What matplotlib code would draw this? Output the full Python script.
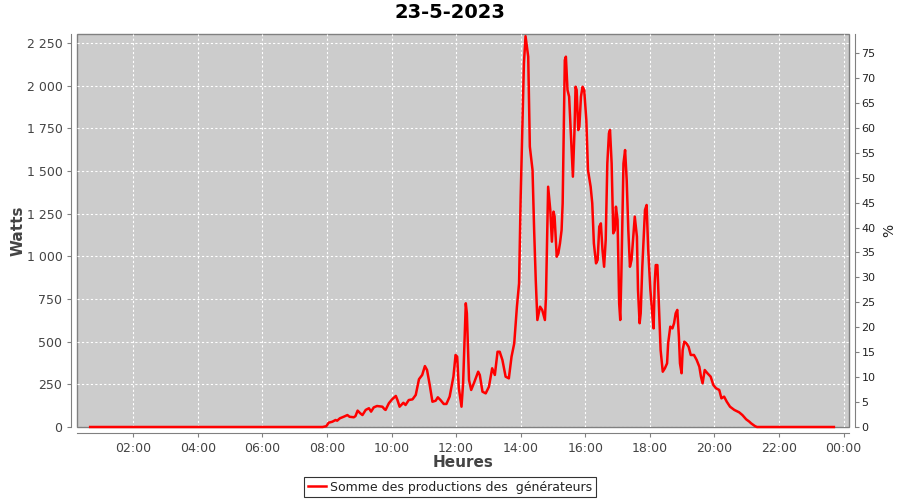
import matplotlib
matplotlib.use("Agg")
import matplotlib.pyplot as plt
from matplotlib.ticker import FuncFormatter, FixedLocator

# Relevés de la journée (heure, watts)
heures = [
    "00:40", "07:52", "07:59", "08:03", "08:10", "08:16", "08:19", "08:24", "08:31", "08:38",
    "08:42", "08:50", "08:53", "08:57", "09:02", "09:06", "09:12", "09:18", "09:22", "09:27",
    "09:33", "09:43", "09:47", "09:49", "09:55", "10:01", "10:08", "10:11", "10:15", "10:22",
    "10:26", "10:32", "10:39", "10:45", "10:51", "10:57", "11:02", "11:06", "11:11", "11:16",
    "11:22", "11:26", "11:31", "11:37", "11:42", "11:48", "11:55", "11:59", "12:02", "12:05",
    "12:10", "12:13", "12:18", "12:20", "12:24", "12:28", "12:33", "12:41", "12:44", "12:49",
    "12:55", "13:01", "13:07", "13:12", "13:17", "13:21", "13:26", "13:32", "13:38", "13:43",
    "13:48", "13:53", "13:57", "14:00", "14:03", "14:06", "14:09", "14:14", "14:17", "14:22",
    "14:25", "14:28", "14:31", "14:36", "14:40", "14:45", "14:47", "14:51", "14:55", "14:58",
    "15:01", "15:03", "15:07", "15:10", "15:13", "15:16", "15:18", "15:20", "15:22", "15:24",
    "15:27", "15:30", "15:33", "15:37", "15:40", "15:42", "15:44", "15:47", "15:49", "15:52",
    "15:55", "15:58", "16:02", "16:05", "16:10", "16:13", "16:16", "16:20", "16:23", "16:26",
    "16:29", "16:32", "16:35", "16:38", "16:41", "16:44", "16:46", "16:49", "16:52", "16:55",
    "16:57", "17:00", "17:03", "17:05", "17:07", "17:11", "17:14", "17:17", "17:20", "17:23",
    "17:26", "17:30", "17:32", "17:36", "17:38", "17:41", "17:43", "17:46", "17:51", "17:54",
    "17:57", "18:01", "18:05", "18:07", "18:09", "18:11", "18:14", "18:17", "18:20", "18:24",
    "18:28", "18:32", "18:34", "18:38", "18:42", "18:45", "18:48", "18:51", "18:54", "18:56",
    "18:59", "19:01", "19:04", "19:08", "19:12", "19:16", "19:22", "19:27", "19:32", "19:35",
    "19:38", "19:42", "19:47", "19:53", "19:58", "20:03", "20:09", "20:13", "20:18", "20:23",
    "20:29", "20:37", "20:46", "20:52", "20:59", "21:05", "21:08", "21:15", "21:19", "23:42",
]
watts = [
    0, 0, 5, 25, 31, 41, 37, 51, 60, 70,
    60, 57, 64, 96, 80, 70, 100, 110, 90, 115,
    123, 119, 104, 100, 139, 162, 182, 158, 119, 142,
    129, 158, 162, 188, 280, 305, 357, 334, 246, 148,
    154, 174, 158, 135, 135, 178, 295, 422, 412, 230,
    119, 256, 725, 666, 275, 217, 256, 324, 305, 207,
    197, 236, 344, 305, 441, 441, 393, 295, 285, 412,
    490, 705, 842, 1350, 1740, 2131, 2290, 2170, 1643, 1506,
    1154, 861, 627, 705, 686, 627, 764, 1408, 1272, 1086,
    1262, 1233, 998, 1018, 1076, 1154, 1311, 1740, 2150, 2170,
    1975, 1936, 1740, 1467, 1740, 1994, 1975, 1740, 1760, 1936,
    1994, 1975, 1799, 1506, 1408, 1311, 1076, 959, 979, 1174,
    1193, 1037, 939, 1096, 1545, 1721, 1740, 1545, 1135, 1154,
    1291, 1213, 725, 627, 881, 1545, 1623, 1447, 1154, 939,
    979, 1154, 1233, 1115, 803, 608, 666, 939, 1272, 1301,
    1037, 803, 646, 578, 842, 949, 949, 705, 451, 324,
    344, 373, 490, 588, 578, 608, 666, 686, 529, 373,
    315, 451, 500, 490, 470, 422, 422, 393, 353, 295,
    256, 334, 315, 295, 246, 227, 217, 168, 178, 148,
    119, 100, 86, 70, 45, 31, 22, 6, 0, 0,
]

x = [int(h[:2]) + int(h[3:]) / 60 for h in heures]

gris = "#444444"
fig = plt.figure(figsize=(9, 5), dpi=100)
ax = fig.add_axes([0.0856, 0.146, 0.8578, 0.786])
ax.set_facecolor("#cccccc")
for s in ax.spines.values():
    s.set_visible(False)
ax.patch.set_edgecolor("#808080")
ax.patch.set_linewidth(1.0)

ligne, = ax.plot(x, watts, color="red", lw=1.8, solid_joinstyle="round",
                 label="Somme des productions des  générateurs", clip_on=False, zorder=3)

ax.set_xlim(0.26, 24.17)
ax.set_ylim(0, 2303)
ax.xaxis.set_major_locator(FixedLocator(list(range(2, 25, 2))))
ax.xaxis.set_major_formatter(FuncFormatter(lambda v, p: f"{int(round(v)) % 24:02d}:00"))
ax.yaxis.set_major_locator(FixedLocator(list(range(0, 2251, 250))))
ax.yaxis.set_major_formatter(FuncFormatter(lambda v, p: f"{v:,.0f}".replace(",", " ")))
ax.grid(True, color="white", ls=(0, (2, 2)), lw=0.8)
ax.set_axisbelow(True)

ax.spines["left"].set_visible(True)
ax.spines["bottom"].set_visible(True)
ax.spines["left"].set_position(("outward", 4))
ax.spines["bottom"].set_position(("outward", 4))
ax.spines["left"].set_color("#808080")
ax.spines["bottom"].set_color("#808080")
ax.tick_params(colors="#808080", labelcolor=gris, labelsize=9, length=3)

ax.set_xlabel("Heures", fontsize=11, fontweight="bold", color=gris, labelpad=0)
ax.set_ylabel("Watts", fontsize=11, fontweight="bold", color=gris, labelpad=1)

ax2 = ax.twinx()
for s in ax2.spines.values():
    s.set_visible(False)
ax2.spines["right"].set_visible(True)
ax2.spines["right"].set_position(("outward", 4))
ax2.spines["right"].set_color("#808080")
ax2.set_ylim(0, 78.8)
ax2.yaxis.set_major_locator(FixedLocator(list(range(0, 76, 5))))
ax2.tick_params(colors="#808080", labelcolor="#222222", labelsize=8, length=3, pad=2)
ax2.set_ylabel("%", fontsize=10, color="#222222", labelpad=5)

fig.suptitle("23-5-2023", fontsize=14, fontweight="bold", y=0.993)

leg = fig.legend(handles=[ligne], loc="center", bbox_to_anchor=(0.5, 0.026),
                 frameon=True, fancybox=False, fontsize=9, handlelength=1.5,
                 borderpad=0.3, handletextpad=0.3)
leg.get_frame().set_edgecolor("black")
leg.get_frame().set_linewidth(0.8)
for t in leg.get_texts():
    t.set_color("#222222")

fig.savefig("out.png", dpi=100)
